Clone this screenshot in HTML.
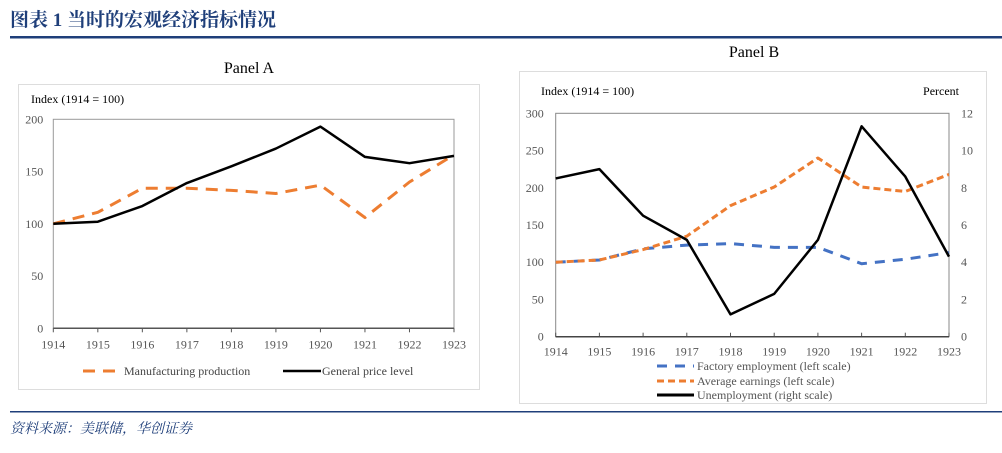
<!DOCTYPE html>
<html><head><meta charset="utf-8"><style>
body{margin:0;background:#fff;width:1002px;height:448px;overflow:hidden;font-family:"Liberation Serif","Noto Serif CJK SC",serif}
svg text{font-family:"Liberation Serif","Noto Serif CJK SC",serif}
</style></head><body>
<svg id="s" width="1002" height="448">
<text x="10" y="26" font-size="19" font-weight="bold" fill="#1f3f7a" font-family="Liberation Serif, Noto Serif CJK SC, serif">图表 1  当时的宏观经济指标情况</text>
<rect x="10" y="36" width="992" height="2.5" fill="#1f3f7a"/>
<text x="249" y="73" font-size="16" text-anchor="middle">Panel A</text>
<rect x="18.5" y="84.5" width="461" height="305" fill="none" stroke="#ddd"/>
<text x="31" y="103" font-size="12">Index (1914 = 100)</text>
<text x="754" y="57" font-size="16" text-anchor="middle">Panel B</text>
<rect x="519.5" y="71.5" width="467" height="332" fill="none" stroke="#ddd"/>
<text x="541" y="95" font-size="12">Index (1914 = 100)</text>
<text x="959" y="95" font-size="12" text-anchor="end">Percent</text>
<rect x="10" y="411" width="992" height="1.5" fill="#1f3f7a"/>
<text x="10" y="433" font-size="14" font-style="italic" fill="#1f3f7a">资料来源：美联储，华创证券</text>
<g id="ga"></g><g id="gb"></g>
</svg>
<script>
const years=["1914","1915","1916","1917","1918","1919","1920","1921","1922","1923"];
const manufacturing=[100,111,134,134,132,129,137,106,140,166];
const priceLevel=[100,102,117,139,155,172,193,164,158,165];
const ticksA=[0,50,100,150,200];
const factoryEmp=[100,103,118,123,125,120,120,98,104,113];
const avgEarnings=[100,103,117,135,176,201,240,201,195,218];
const unemployment=[8.5,9.0,6.5,5.2,1.2,2.3,5.2,11.3,8.6,4.3];
const ticksB=[0,50,100,150,200,250,300];
const ticksB2=[0,2,4,6,8,10,12];
const NS="http://www.w3.org/2000/svg";
function mk(p,t,a,txt){const e=document.createElementNS(NS,t);for(const k in a)e.setAttribute(k,a[k]);if(txt!==undefined)e.textContent=txt;p.appendChild(e);return e;}
function line(p,xs,ys,vals,style){return mk(p,"polyline",Object.assign({points:vals.map((v,i)=>xs(i)+","+ys(v)).join(" "),fill:"none","stroke-linejoin":"round"},style));}
// Panel A
const ga=document.getElementById("ga");
const ax0=53.3,ax1=454,ay0=328.3,ay1=119.3;
const xa=i=>ax0+(ax1-ax0)*i/(years.length-1), ya=v=>ay0-(ay0-ay1)*v/200;
let r=mk(ga,"rect",{x:ax0,y:ay1,width:ax1-ax0,height:ay0-ay1,fill:"none",stroke:"#999"});

ticksA.forEach(t=>{let e=mk(ga,"text",{x:ax0-10,y:ya(t)+4,"font-size":12,"text-anchor":"end",fill:"#555"},t);
});
years.forEach((y,i)=>{mk(ga,"line",{x1:xa(i),x2:xa(i),y1:ay0,y2:ay0+4,stroke:"#555"});
let e=mk(ga,"text",{x:xa(i),y:ay0+20,"font-size":12,"text-anchor":"middle",fill:"#555"},y);
});
mk(ga,"line",{x1:ax0,x2:ax1,y1:ay0,y2:ay0,stroke:"#555","stroke-width":1.5});
let s=line(ga,xa,ya,manufacturing,{stroke:"#ed7d31","stroke-width":3,"stroke-dasharray":"12,8"});

s=line(ga,xa,ya,priceLevel,{stroke:"#000","stroke-width":2.5});

mk(ga,"line",{x1:83,x2:117,y1:371,y2:371,stroke:"#ed7d31","stroke-width":3,"stroke-dasharray":"12,8"});
s=mk(ga,"text",{x:124,y:375,"font-size":12,fill:"#444"},"Manufacturing production");

mk(ga,"line",{x1:283,x2:321,y1:371,y2:371,stroke:"#000","stroke-width":2.5});
s=mk(ga,"text",{x:322,y:375,"font-size":12,fill:"#444"},"General price level");

// Panel B
const gb=document.getElementById("gb");
const bx0=555.7,bx1=949,by0=336.7,by1=113.3;
const xb=i=>bx0+(bx1-bx0)*i/(years.length-1), yb=v=>by0-(by0-by1)*v/300, yb2=v=>by0-(by0-by1)*v/12;
r=mk(gb,"rect",{x:bx0,y:by1,width:bx1-bx0,height:by0-by1,fill:"none",stroke:"#888"});

ticksB.forEach(t=>{let e=mk(gb,"text",{x:bx0-12,y:yb(t)+4,"font-size":12,"text-anchor":"end",fill:"#555"},t);
});
ticksB2.forEach(t=>{let e=mk(gb,"text",{x:bx1+12,y:yb2(t)+4,"font-size":12,fill:"#555"},t);
});
years.forEach((y,i)=>{mk(gb,"line",{x1:xb(i),x2:xb(i),y1:by0,y2:by0-4,stroke:"#555"});
let e=mk(gb,"text",{x:xb(i),y:by0+19,"font-size":12,"text-anchor":"middle",fill:"#555"},y);
});
mk(gb,"line",{x1:bx0,x2:bx1,y1:by0,y2:by0,stroke:"#444","stroke-width":1.5});
s=line(gb,xb,yb,factoryEmp,{stroke:"#4472c4","stroke-width":3,"stroke-dasharray":"10,8"});

s=line(gb,xb,yb,avgEarnings,{stroke:"#ed7d31","stroke-width":3,"stroke-dasharray":"7,4"});

s=line(gb,xb,yb2,unemployment,{stroke:"#000","stroke-width":2.5});

const lg=[["Factory employment (left scale)",{stroke:"#4472c4","stroke-width":3,"stroke-dasharray":"10,8"},366,'legend-factory-employment'],
["Average earnings (left scale)",{stroke:"#ed7d31","stroke-width":3,"stroke-dasharray":"7,4"},381,'legend-average-earnings'],
["Unemployment (right scale)",{stroke:"#000","stroke-width":3},395,'legend-unemployment']];
lg.forEach(l=>{mk(gb,"line",Object.assign({x1:657,x2:694,y1:l[2],y2:l[2]},l[1]));
let e=mk(gb,"text",{x:697,y:l[2]+4,"font-size":12,fill:"#555"},l[0]);
});
</script>
</body></html>
